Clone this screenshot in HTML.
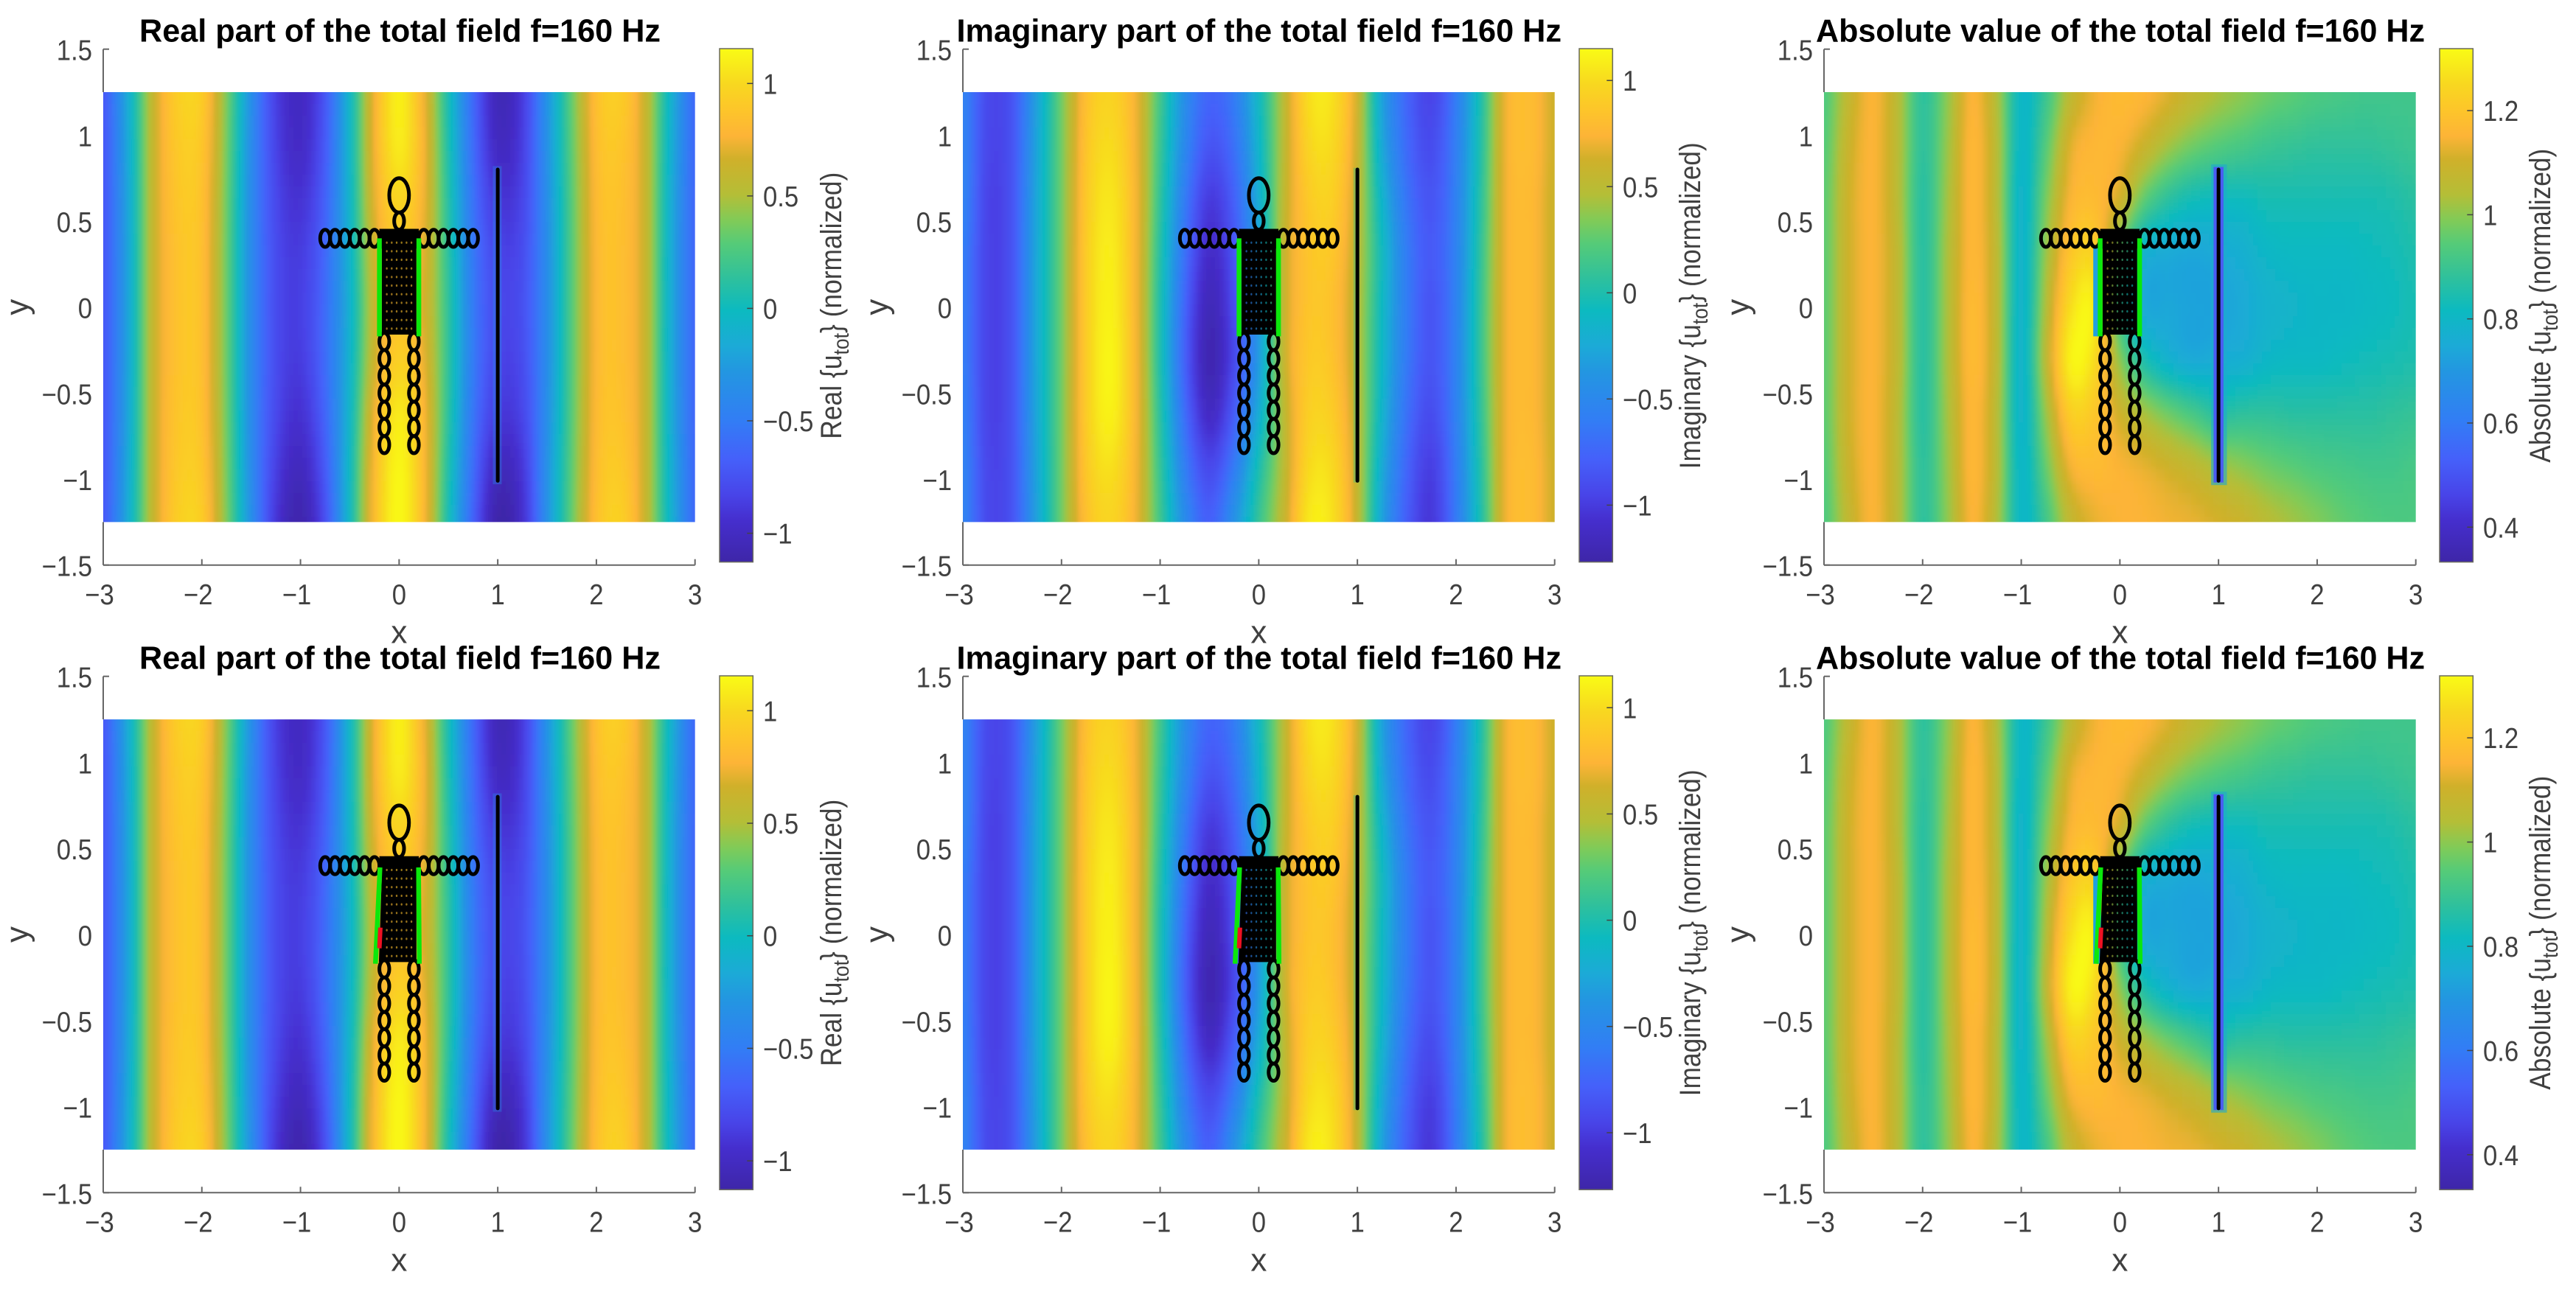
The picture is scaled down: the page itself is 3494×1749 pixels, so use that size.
<!DOCTYPE html>
<html lang="en">
<head>
<meta charset="utf-8">
<title>Total field f=160 Hz</title>
<style>
html,body{margin:0;padding:0;background:#fff;}
svg{display:block;}
text{font-family:"Liberation Sans",sans-serif;}
</style>
</head>
<body>
<svg id="figure" width="3494" height="1749" viewBox="0 0 3494 1749" xmlns="http://www.w3.org/2000/svg">
<defs id="defs"></defs>
<rect width="3494" height="1749" fill="#fff"></rect>
</svg>
<script>
// ---- data ----
const xGrid = [-3,-2.75,-2.5,-2.25,-2,-1.75,-1.5,-1.25,-1,-0.75,-0.5,-0.25,0,0.25,0.5,0.75,1,1.25,1.5,1.75,2,2.25,2.5,2.75,3];
const yGrid = [1.25,0.9375,0.625,0.3125,0,-0.3125,-0.625,-0.9375,-1.25];
const realField = [
[-.72,-.15,.58,.93,.92,.38,-.35,-.85,-1.00,-.72,-.05,.74,1.10,.74,.04,-.62,-1.05,-.88,-.32,.32,.84,.92,.60,-.08,-.62],
[-.72,-.17,.58,.90,.88,.36,-.37,-.83,-.98,-.70,-.05,.74,1.08,.76,.07,-.60,-1.00,-.86,-.33,.30,.82,.88,.60,-.10,-.62],
[-.72,-.19,.58,.88,.85,.34,-.38,-.80,-.92,-.66,-.06,.70,.98,.74,.10,-.56,-.90,-.82,-.35,.28,.80,.85,.60,-.12,-.63],
[-.72,-.20,.58,.86,.84,.33,-.38,-.78,-.87,-.62,-.08,.64,.88,.70,.12,-.52,-.82,-.78,-.36,.27,.79,.84,.60,-.13,-.63],
[-.72,-.20,.58,.86,.84,.33,-.38,-.78,-.85,-.60,-.10,.60,.85,.67,.14,-.50,-.80,-.76,-.36,.27,.79,.84,.60,-.13,-.63],
[-.72,-.20,.58,.86,.84,.33,-.38,-.78,-.87,-.60,-.08,.64,.95,.72,.14,-.50,-.82,-.78,-.36,.27,.79,.84,.60,-.13,-.63],
[-.72,-.19,.58,.88,.85,.34,-.38,-.80,-.93,-.64,-.05,.74,1.08,.78,.12,-.54,-.88,-.82,-.35,.28,.80,.86,.60,-.12,-.63],
[-.72,-.17,.58,.90,.88,.36,-.37,-.85,-1.02,-.70,-.02,.80,1.13,.80,.08,-.60,-1.02,-.90,-.33,.30,.82,.90,.60,-.10,-.62],
[-.72,-.15,.58,.93,.92,.38,-.35,-.90,-1.10,-.76,-.02,.82,1.14,.80,.04,-.66,-1.12,-.95,-.33,.32,.84,.94,.60,-.08,-.62]
];
const imagField = [
[-.55,-.92,-.85,-.30,.30,.82,.95,.72,.15,-.45,-.75,-.60,-.10,.50,1.00,1.02,.60,-.30,-.75,-.95,-.60,0,.70,.80,.62],
[-.55,-.93,-.85,-.28,.30,.85,1.00,.73,.12,-.50,-.85,-.68,-.15,.50,.95,.98,.58,-.25,-.72,-.90,-.58,.02,.70,.80,.62],
[-.55,-.95,-.85,-.26,.30,.88,1.05,.75,.08,-.60,-1.00,-.78,-.22,.52,.88,.92,.55,-.15,-.65,-.85,-.56,.05,.70,.78,.60],
[-.60,-.95,-.85,-.25,.30,.90,1.08,.75,.03,-.68,-1.10,-.85,-.30,.55,.85,.86,.52,-.08,-.60,-.82,-.55,.08,.70,.78,.60],
[-.60,-.95,-.85,-.25,.30,.90,1.10,.75,0,-.75,-1.18,-.90,-.35,.55,.85,.82,.50,-.10,-.60,-.85,-.55,.10,.70,.78,.60],
[-.60,-.95,-.85,-.25,.30,.90,1.12,.76,0,-.78,-1.22,-.92,-.35,.55,.88,.84,.50,-.12,-.62,-.85,-.55,.10,.70,.78,.60],
[-.58,-.95,-.85,-.26,.30,.90,1.10,.76,.05,-.70,-1.12,-.80,-.22,.50,.92,.90,.52,-.16,-.68,-.90,-.56,.07,.70,.78,.60],
[-.55,-.93,-.85,-.28,.30,.87,1.02,.74,.10,-.58,-.92,-.60,-.02,.50,.98,.98,.54,-.24,-.75,-.98,-.60,.03,.70,.80,.62],
[-.55,-.92,-.85,-.30,.30,.82,.96,.72,.14,-.47,-.78,-.42,.10,.55,1.05,1.02,.55,-.30,-.80,-1.02,-.62,0,.70,.80,.62]
];
const absField = [
[.93,1.07,1.15,1.05,.88,1.00,1.15,1.04,.80,.90,1.06,1.14,1.17,1.16,1.12,1.07,1.03,1.00,.97,.95,.93,.92,.91,.91,.91],
[.94,1.09,1.15,1.05,.88,1.01,1.16,1.05,.80,.94,1.12,1.16,1.15,1.09,1.02,.97,.94,.92,.90,.89,.88,.88,.88,.89,.90],
[.95,1.10,1.15,1.05,.87,1.02,1.16,1.05,.79,.98,1.15,1.17,1.10,.95,.87,.83,.82,.82,.84,.84,.84,.84,.84,.85,.87],
[.95,1.10,1.15,1.06,.87,1.03,1.16,1.06,.79,1.01,1.20,1.22,.95,.78,.75,.74,.75,.77,.80,.81,.81,.81,.82,.83,.85],
[.95,1.10,1.15,1.06,.87,1.03,1.17,1.06,.79,1.04,1.26,1.28,.90,.75,.74,.73,.73,.75,.78,.79,.80,.80,.81,.82,.84],
[.95,1.10,1.15,1.06,.87,1.03,1.17,1.06,.79,1.06,1.30,1.25,1.00,.85,.78,.75,.76,.77,.80,.81,.81,.82,.83,.84,.85],
[.95,1.10,1.15,1.05,.87,1.02,1.16,1.05,.79,1.01,1.22,1.20,1.10,1.03,.97,.92,.87,.88,.88,.87,.87,.87,.87,.88,.89],
[.94,1.09,1.15,1.05,.88,1.01,1.16,1.05,.80,.96,1.14,1.17,1.15,1.13,1.10,1.07,1.03,1.00,.97,.95,.93,.92,.91,.91,.92],
[.93,1.07,1.15,1.05,.88,1.00,1.15,1.04,.80,.91,1.07,1.13,1.15,1.15,1.14,1.13,1.11,1.09,1.05,1.02,.99,.96,.94,.93,.93]
];
const xTicks = [-3,-2,-1,0,1,2,3];
const yTicks = [-1.5,-1,-0.5,0,0.5,1,1.5];
const realCbarTicks = [-1,-0.5,0,0.5,1];
const imagCbarTicks = [-1,-0.5,0,0.5,1];
const absCbarTicks = [0.4,0.6,0.8,1,1.2];
const realLimits = [-1.128,1.155];
const imagLimits = [-1.268,1.15];
const absLimits = [0.333,1.319];
const realTitle = "Real part of the total field f=160 Hz";
const imagTitle = "Imaginary part of the total field f=160 Hz";
const absTitle = "Absolute value of the total field f=160 Hz";

// ---- colour map ----
const cmap = [[0,62,38,168],[.08,69,46,205],[.13,72,68,232],[.2,69,96,250],[.275,50,125,245],[.37,35,150,225],[.42,28,170,215],[.49,12,186,192],[.55,45,192,158],[.62,85,203,120],[.665,128,203,88],[.715,180,190,55],[.785,208,176,42],[.83,253,180,55],[.88,253,197,42],[.93,248,215,32],[1,249,251,21]];
function colorAt(t){
  t=Math.max(0,Math.min(1,t));
  for(let i=1;i<cmap.length;i++){
    if(t<=cmap[i][0]){
      const a=cmap[i-1],b=cmap[i],u=(t-a[0])/(b[0]-a[0]);
      return 'rgb('+Math.round(a[1]+(b[1]-a[1])*u)+','+Math.round(a[2]+(b[2]-a[2])*u)+','+Math.round(a[3]+(b[3]-a[3])*u)+')';
    }
  }
  return 'rgb(249,251,21)';
}

// ---- helpers ----
const NS='http://www.w3.org/2000/svg';
const root=document.getElementById('figure');
const defs=document.getElementById('defs');
function make(tag,parent,attrs){
  const e=document.createElementNS(NS,tag);
  for(const k in attrs){e.setAttribute(k,attrs[k]);}
  parent.appendChild(e);
  return e;
}
function fmt(v){return (v<0?'\u2212':'')+Math.abs(v);}
// tick labels in the reference are slightly condensed horizontally
function condense(t){
  t.setAttribute('textLength',(t.getComputedTextLength()*0.9).toFixed(1));
  t.setAttribute('lengthAdjust','spacingAndGlyphs');
}
function cr(a,b,c,d,t){return 0.5*((2*b)+(-a+c)*t+(2*a-5*b+4*c-d)*t*t+(-a+3*b-3*c+d)*t*t*t);}
function sampleField(f,x,y){
  const nx=xGrid.length,ny=yGrid.length;
  const gx=Math.max(0,Math.min(nx-1.0001,(x-xGrid[0])/(xGrid[1]-xGrid[0])));
  const gy=Math.max(0,Math.min(ny-1.0001,(y-yGrid[0])/(yGrid[1]-yGrid[0])));
  const i=Math.floor(gx),j=Math.floor(gy),u=gx-i,v=gy-j;
  const rowVal=function(r){
    const R=f[Math.max(0,Math.min(ny-1,r))];
    return cr(R[Math.max(0,i-1)],R[i],R[Math.min(nx-1,i+1)],R[Math.min(nx-1,i+2)],u);
  };
  return cr(rowVal(j-1),rowVal(j),rowVal(j+1),rowVal(j+2),v);
}

let uid=0;
function drawPanel(cfg){
  uid++;
  const L=cfg.left,T=cfg.top,W=802.7,H=cfg.height;
  const sx=function(x){return L+(x+3)/6*W;};
  const sy=function(y){return T+(1.5-y)/3*H;};
  const g=make('g',root,{});
  
  

  // heatmap
  const clip=make('clipPath',defs,{id:'clip'+uid});
  make('rect',clip,{x:sx(-3),y:sy(1.25),width:sx(3)-sx(-3),height:sy(-1.25)-sy(1.25)});
  const blur=make('filter',defs,{id:'blur'+uid,x:'-5%',y:'-5%',width:'110%',height:'110%'});
  make('feGaussianBlur',blur,{stdDeviation:'2.5 6'});
  const clipG=make('g',g,{'clip-path':'url(#clip'+uid+')'});
  
  
  const heat=make('g',clipG,{filter:'url(#blur'+uid+')','shape-rendering':'crispEdges'});
  const cw=6,ch=16;
  const x0=sx(-3),y0=sy(1.25);
  const nc=Math.ceil((sx(3)-x0)/cw),nr=Math.ceil((sy(-1.25)-y0)/ch);
  const lo=cfg.limits[0],hi=cfg.limits[1];
  for(let r=-3;r<nr+3;r++){
    for(let c=-3;c<nc+3;c++){
      const px=x0+c*cw,py=y0+r*ch;
      const dx=(px+cw/2-L)/W*6-3,dy=1.5-(py+ch/2-T)/H*3;
      const val=sampleField(cfg.field,dx,dy);
      const cell=make('rect',heat,{x:px.toFixed(1),y:py.toFixed(1),width:cw+0.6,height:ch+0.6,fill:colorAt((val-lo)/(hi-lo))});
      
      
    }
  }

  // shadows behind obstacles
  cfg.shadows.forEach(function(s){
    const sh=make('rect',g,{x:sx(s[0]),y:sy(s[3]),width:sx(s[1])-sx(s[0]),height:sy(s[2])-sy(s[3]),fill:s[4]});
    
    
  });

  // axes
  const axc='#666';
  const axisX=make('line',g,{x1:L,x2:L+W,y1:T+H,y2:T+H,stroke:axc,'stroke-width':2});
  
  
  const axisYTop=make('line',g,{x1:L,x2:L,y1:T,y2:sy(1.25),stroke:axc,'stroke-width':2});
  
  
  const axisYBottom=make('line',g,{x1:L,x2:L,y1:sy(-1.25),y2:T+H,stroke:axc,'stroke-width':2});
  
  
  xTicks.forEach(function(v){
    const tick=make('line',g,{x1:sx(v),x2:sx(v),y1:T+H,y2:T+H-8,stroke:axc,'stroke-width':2});
    
    
    const lab=make('text',g,{x:sx(v)-(v<0?5:0),y:T+H+53.3,'font-size':38.5,fill:'#404040','text-anchor':'middle'});
    lab.textContent=fmt(v);
    
    
    condense(lab);
  });
  yTicks.forEach(function(v){
    if(Math.abs(v)>1.3){
      const tick=make('line',g,{x1:L,x2:L+8,y1:sy(v),y2:sy(v),stroke:axc,'stroke-width':2});
      
      
    }
    const lab=make('text',g,{x:L-15,y:sy(v)+15,'font-size':38.5,fill:'#404040','text-anchor':'end'});
    lab.textContent=fmt(v);
    
    
    condense(lab);
  });
  const xt=make('text',g,{x:sx(0),y:T+H+106,'font-size':44,fill:'#404040','text-anchor':'middle'});
  xt.textContent='x';
  
  
  const yt=make('text',g,{transform:'translate('+(L-102)+','+sy(0)+') rotate(-90)','font-size':44,fill:'#404040','text-anchor':'middle'});
  yt.textContent='y';
  
  
  const ti=make('text',g,{x:cfg.titleX,y:T-10,'font-size':44,'font-weight':'bold',fill:'#000',textLength:cfg.titleW,lengthAdjust:'spacingAndGlyphs'});
  ti.textContent=cfg.title;
  
  

  // figure: body made of circles in data coordinates
  const fig=make('g',g,{fill:'none',stroke:'#000','stroke-width':5});
  
  
  const ring=function(x,y,r,name){
    const e=make('ellipse',fig,{cx:sx(x),cy:sy(y),rx:r/6*W,ry:r/3*H});
    
    
  };
  ring(0,0.65,0.1,'head');
  ring(0,0.5,0.05,'neck');
  [-0.75,-0.65,-0.55,-0.45,-0.35,-0.25,0.25,0.35,0.45,0.55,0.65,0.75].forEach(function(x){ring(x,0.4,0.05,'arm-element');});
  [-0.15,0.15].forEach(function(x){
    [-0.2,-0.3,-0.4,-0.5,-0.6,-0.7,-0.8].forEach(function(y){ring(x,y,0.05,'leg-element');});
  });
  // dense torso: solid body with the small gaps left by the overlapping circles
  const lowLeft=cfg.bent?-0.205:-0.175;
  const torsoPts=[[-0.2,0.455],[0.2,0.455],[0.2,0.34],[0.175,0.34],[0.175,-0.16],[lowLeft,-0.16],[-0.175,0.34],[-0.2,0.34]];
  const torso=make('polygon',g,{points:torsoPts.map(function(p){return sx(p[0]).toFixed(1)+','+sy(p[1]).toFixed(1);}).join(' '),fill:'#000'});
  
  
  for(let i=-3;i<3;i++){
    for(let j=0;j<11;j++){
      const dxv=(i+0.5)*0.05,dyv=0.375-j*0.05;
      const dot=make('ellipse',g,{cx:sx(dxv),cy:sy(dyv),rx:1.2,ry:1.6,fill:colorAt((sampleField(cfg.field,dxv,dyv)-lo)/(hi-lo)),'fill-opacity':0.6});
      
      
    }
  }
  // boundary lines
  const leftLine=cfg.bent?[-0.194,0.39,-0.24,-0.17]:[-0.2,0.4,-0.2,-0.17];
  const rightLine=cfg.bent?[0.197,0.39,0.205,-0.17]:[0.2,0.4,0.2,-0.17];
  [leftLine,rightLine].forEach(function(s){
    const ln=make('line',g,{x1:sx(s[0]),y1:sy(s[1]),x2:sx(s[2]),y2:sy(s[3]),stroke:'#0be80b','stroke-width':6.5});
    
    
  });
  if(cfg.bent){
    const red=make('line',g,{x1:sx(-0.19),y1:sy(0.04),x2:sx(-0.2),y2:sy(-0.08),stroke:'#ee1122','stroke-width':6});
    
    
  }
  // wall
  const wall=make('line',g,{x1:sx(1),x2:sx(1),y1:sy(0.8),y2:sy(-1.01),stroke:'#000','stroke-width':5,'stroke-linecap':'round'});
  
  

  // colorbar
  const cbx=cfg.cbar,cbT=T-0.7,cbH=H-3.4,cbW=45.3;
  const gid='grad'+uid;
  const grad=make('linearGradient',defs,{id:gid,x1:0,y1:1,x2:0,y2:0});
  cmap.forEach(function(s){make('stop',grad,{offset:s[0],'stop-color':'rgb('+s[1]+','+s[2]+','+s[3]+')'});});
  const bar=make('rect',g,{x:cbx,y:cbT,width:cbW,height:cbH,fill:'url(#'+gid+')',stroke:'#6a6a5e','stroke-width':1.5});
  
  
  const cby=function(v){return cbT+cbH-(v-lo)/(hi-lo)*cbH;};
  cfg.cbarTicks.forEach(function(v){
    const tick=make('line',g,{x1:cbx+cbW-8,x2:cbx+cbW,y1:cby(v),y2:cby(v),stroke:'#444','stroke-width':1.5});
    
    
    const lab=make('text',g,{x:cbx+59,y:cby(v)+14,'font-size':38.5,fill:'#404040'});
    lab.textContent=fmt(v);
    
    
    condense(lab);
  });
  const cl=make('text',g,{transform:'translate('+cfg.labelX+','+(T+348)+') rotate(-90)','font-size':40,fill:'#404040','text-anchor':'middle',textLength:cfg.labelW,lengthAdjust:'spacingAndGlyphs'});
  
  
  const t1=make('tspan',cl,{});
  t1.textContent=cfg.label+' {u';
  const t2=make('tspan',cl,{dy:10,'font-size':30});
  t2.textContent='tot';
  const t3=make('tspan',cl,{dy:-10});
  t3.textContent='} (normalized)';
}

const rows=[{top:66.7,height:700,bent:false},{top:917.7,height:700.6,bent:true}];
rows.forEach(function(r){
  drawPanel({name:'real',left:140,top:r.top,height:r.height,bent:r.bent,field:realField,limits:realLimits,cbarTicks:realCbarTicks,cbar:976,title:realTitle,titleX:189,titleW:707,label:'Real',labelX:1141,labelW:362,
    shadows:[[0.95,1.04,-1.03,0.82,'rgba(40,140,235,0.35)']]});
  drawPanel({name:'imaginary',left:1306,top:r.top,height:r.height,bent:r.bent,field:imagField,limits:imagLimits,cbarTicks:imagCbarTicks,cbar:2142,title:imagTitle,titleX:1297.5,titleW:820.5,label:'Imaginary',labelX:2306,labelW:443,
    shadows:[[0.96,1.02,-1.02,0.81,'rgba(60,190,130,0.4)']]});
  drawPanel({name:'absolute',left:2474,top:r.top,height:r.height,bent:r.bent,field:absField,limits:absLimits,cbarTicks:absCbarTicks,cbar:3309,title:absTitle,titleX:2463,titleW:826,label:'Absolute',labelX:3459,labelW:426,
    shadows:[[0.925,1.085,-1.035,0.83,'rgba(30,170,205,0.6)'],[0.95,1.05,-1.02,0.815,'#4a5cf2'],[-0.27,-0.19,-0.17,0.36,'#1fa0e0']]});
});
</script>
</body>
</html>
